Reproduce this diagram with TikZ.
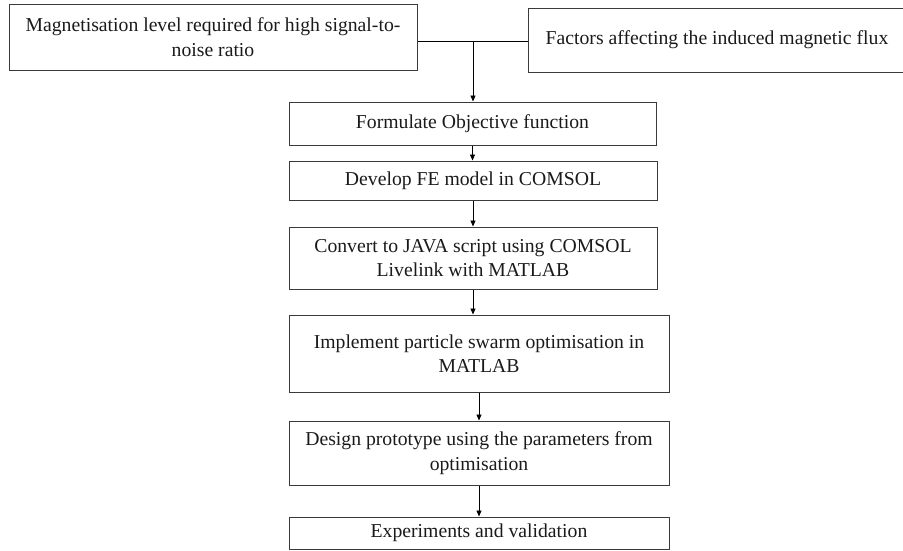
\documentclass[tikz,border=0pt]{standalone}
\usepackage{fontspec}
\setmainfont{Liberation Serif}
\usetikzlibrary{arrows.meta}
\definecolor{edge}{HTML}{3A3A3A}
\definecolor{ink}{HTML}{1A1A1A}
\tikzset{
  flowbox/.style={draw=edge, line width=1pt, rectangle, inner sep=0pt, align=center,
    text=ink, font=\fontsize{19.7}{24.5}\selectfont},
  flowline/.style={draw=black, line width=0.8pt},
  flowarrow/.style={flowline, -{Triangle[length=6pt,width=5pt]}}
}
\begin{document}
\begin{tikzpicture}[x=1pt,y=-1pt]
\useasboundingbox (0,0) rectangle (903,550);
\node[flowbox, minimum width=408pt, minimum height=66pt] (L) at (213,37)
  {Magnetisation level required for high signal-to-\\noise ratio};
\node[flowbox, minimum width=378pt, minimum height=64pt] (R) at (717,40)
  {Factors affecting the induced magnetic flux};
\node[flowbox, minimum width=367pt, minimum height=43pt] (B1) at (472.5,123.5)
  {Formulate Objective function};
\node[flowbox, minimum width=368pt, minimum height=39pt] (B2) at (473,180.5)
  {Develop FE model in COMSOL};
\node[flowbox, minimum width=368pt, minimum height=62pt] (B3) at (473,258)
  {Convert to JAVA script using COMSOL\\Livelink with MATLAB};
\node[flowbox, minimum width=380pt, minimum height=77pt] (B4) at (479,353.5)
  {Implement particle swarm optimisation in\\MATLAB};
\node[flowbox, minimum width=380pt, minimum height=64pt] (B5) at (479,453)
  {Design prototype using the parameters from\\optimisation};
\node[flowbox, minimum width=380pt, minimum height=32pt] (B6) at (479,533)
  {Experiments and validation};
\coordinate (J) at (473,41);
\draw[flowline] (L.east |- J) -- (R.west |- J);
\draw[flowarrow] (J) -- (J |- B1.north);
\draw[flowarrow] (B1.south) -- (B1.south |- B2.north);
\draw[flowarrow] (B2.south) -- (B2.south |- B3.north);
\draw[flowarrow] (B3.south) -- (B3.south |- B4.north);
\draw[flowarrow] (B4.south) -- (B5.north);
\draw[flowarrow] (B5.south) -- (B6.north);
\end{tikzpicture}
\end{document}
